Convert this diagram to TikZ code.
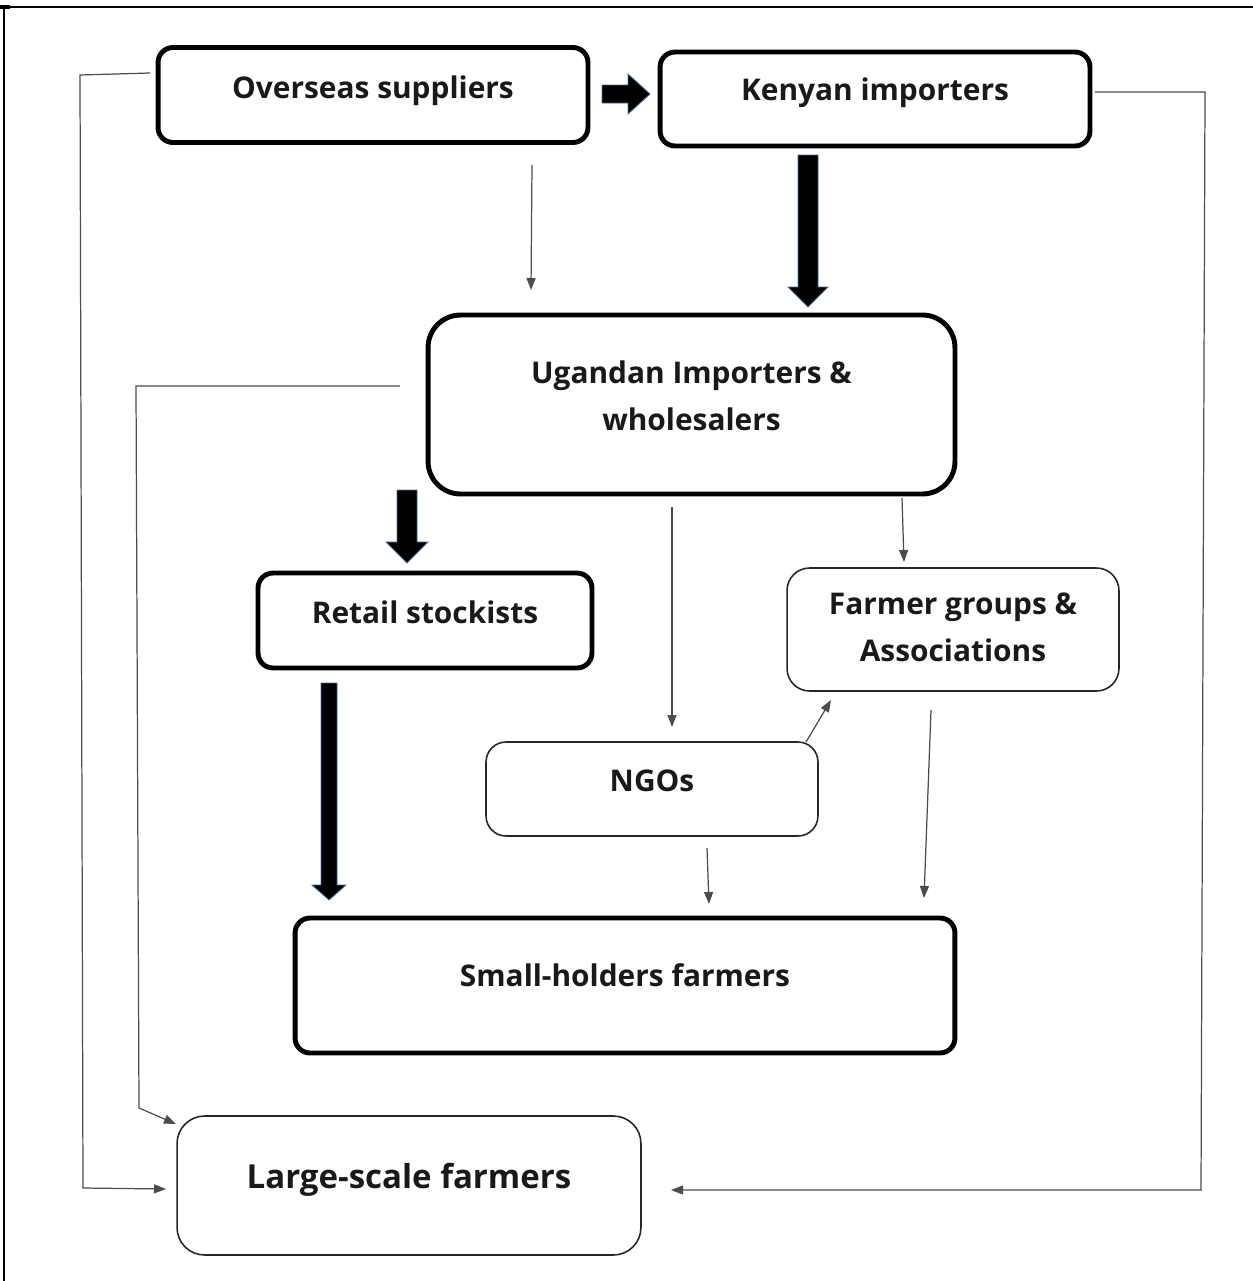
\documentclass[tikz,border=0pt]{standalone}
\usepackage{fontspec}
\setmainfont{Open Sans}
\usetikzlibrary{calc,arrows.meta}
\tikzset{
  thickbox/.style={draw=black, line width=2.8pt, rounded corners=0.3cm, inner sep=0pt},
  thinbox/.style={draw=black!85, line width=0.9pt, rounded corners=0.45cm, inner sep=0pt},
  txt/.style={font=\fontsize{17}{26.5}\selectfont\bfseries, align=center, inner sep=0pt, text=black!90},
  conn/.style={draw=black!70, line width=0.7pt, -{Triangle[length=0.24cm,width=0.18cm]}},
  blk/.style={fill=black, draw={rgb,255:red,70;green,110;blue,160}, line width=0.5pt, line join=miter},
  border/.style={draw=black, line width=1.1pt}
}
\newcommand{\varrow}[5]{%
  \path[blk] ($(#1)+(-#3,0)$) -- ($(#2)+(-#3,-#5)$) -- ($(#2)+(-#4,-#5)$) -- (#2) -- ($(#2)+(#4,-#5)$) -- ($(#2)+(#3,-#5)$) -- ($(#1)+(#3,0)$) -- cycle;}
\newcommand{\harrow}[5]{%
  \path[blk] ($(#1)+(0,-#3)$) -- ($(#2)+(-#5,-#3)$) -- ($(#2)+(-#5,-#4)$) -- (#2) -- ($(#2)+(-#5,#4)$) -- ($(#2)+(-#5,#3)$) -- ($(#1)+(0,#3)$) -- cycle;}
\begin{document}
\begin{tikzpicture}[x=0.02cm, y=-0.02cm]
\useasboundingbox (0,0) rectangle (1253,1281);
% border
\draw[border] (0,7) -- (1253,7);
\draw[border] (4,7) -- (4,1281);
\draw[line width=2pt] (0,7) -- (10,7);

% nodes
\node[thickbox, minimum width=8.6cm, minimum height=1.9cm,
  label={[txt, yshift=0.09cm]center:Overseas suppliers}] (ovs) at (373,95) {};
\node[thickbox, minimum width=8.6cm, minimum height=1.88cm,
  label={[txt, yshift=0.12cm]center:Kenyan importers}] (ken) at (875,99) {};
\node[thickbox, rounded corners=0.65cm, minimum width=10.54cm, minimum height=3.58cm,
  label={[txt, yshift=0.17cm]center:Ugandan Importers \&\\ wholesalers}] (uga) at (691.5,404.5) {};
\node[thickbox, minimum width=6.68cm, minimum height=1.9cm,
  label={[txt, yshift=0.16cm]center:Retail stockists}] (ret) at (425,620.5) {};
\node[thinbox, minimum width=6.64cm, minimum height=2.46cm,
  label={[txt, yshift=0.04cm]center:Farmer groups \&\\ Associations}] (fgr) at (953,629.5) {};
\node[thinbox, rounded corners=0.4cm, minimum width=6.64cm, minimum height=1.88cm,
  label={[txt, yshift=0.16cm]center:NGOs}] (ngo) at (652,789) {};
\node[thickbox, minimum width=13.2cm, minimum height=2.7cm,
  label={[txt, yshift=0.21cm]center:Small-holders farmers}] (sml) at (625,985.5) {};
\node[thinbox, rounded corners=0.55cm, minimum width=9.28cm, minimum height=2.78cm,
  label={[txt, font=\fontsize{18.8}{26}\selectfont\bfseries, yshift=0.12cm]center:Large-scale farmers}] (lrg) at (409,1185.5) {};

% block arrows
\coordinate (a1s) at (602,94);  \coordinate (a1t) at (650,94);
\harrow{a1s}{a1t}{9}{20}{22}
\coordinate (a2s) at (808,155); \coordinate (a2t) at (808,307);
\varrow{a2s}{a2t}{10}{20}{20}
\coordinate (a3s) at (407,490); \coordinate (a3t) at (407,563);
\varrow{a3s}{a3t}{10}{21}{21}
\coordinate (a4s) at (329,683); \coordinate (a4t) at (329,900);
\varrow{a4s}{a4t}{8}{17}{15}

% thin connectors
\coordinate (c1s) at (532,165); \coordinate (c1t) at (531,290);
\draw[conn] (c1s) -- (c1t);
\coordinate (c2s) at (150,73); \coordinate (c2a) at (80,75); \coordinate (c2b) at (83,1188); \coordinate (c2t) at (166,1189);
\draw[conn] (c2s) -- (c2a) -- (c2b) -- (c2t);
\coordinate (c3s) at (400,386); \coordinate (c3a) at (136,386); \coordinate (c3b) at (139,1108); \coordinate (c3t) at (176,1124);
\draw[conn] (c3s) -- (c3a) -- (c3b) -- (c3t);
\coordinate (c4s) at (1095,92); \coordinate (c4a) at (1205,92); \coordinate (c4b) at (1201,1190); \coordinate (c4t) at (671,1190);
\draw[conn] (c4s) -- (c4a) -- (c4b) -- (c4t);
\coordinate (c5s) at (672,507); \coordinate (c5t) at (672,727);
\draw[conn] (c5s) -- (c5t);
\coordinate (c6s) at (902,498); \coordinate (c6t) at (904,562);
\draw[conn] (c6s) -- (c6t);
\coordinate (c7s) at (806,742); \coordinate (c7t) at (831,700);
\draw[conn] (c7s) -- (c7t);
\coordinate (c8s) at (707,848); \coordinate (c8t) at (709,904);
\draw[conn] (c8s) -- (c8t);
\coordinate (c9s) at (931,710); \coordinate (c9t) at (924,898);
\draw[conn] (c9s) -- (c9t);
\end{tikzpicture}
\end{document}
